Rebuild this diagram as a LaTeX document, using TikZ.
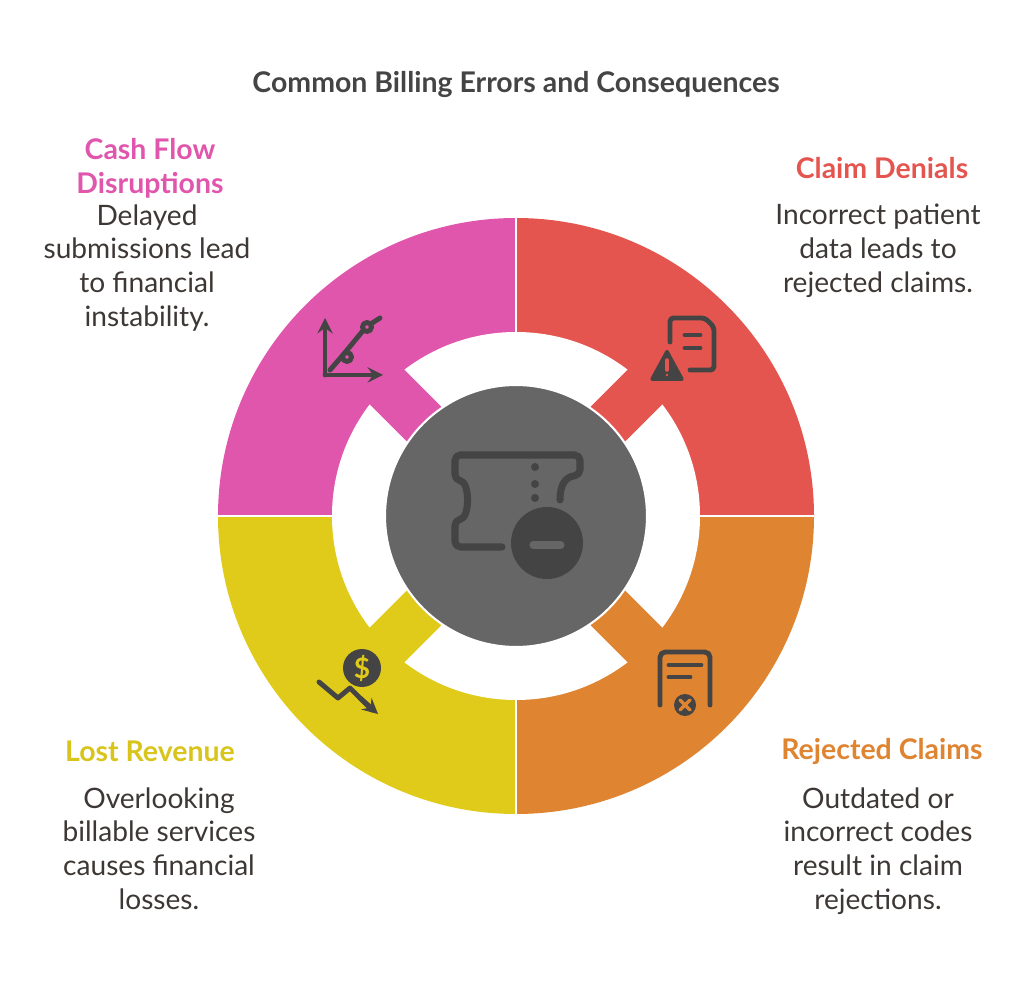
\documentclass[tikz,border=0pt]{standalone}
\usepackage{fontspec}
\setmainfont{Lato}
\begin{document}
\begin{tikzpicture}[x=0.02cm,y=-0.02cm,
  head/.style={font=\bfseries\fontsize{16.2}{19.3}\selectfont,align=center,inner sep=0},
  body/.style={font=\fontsize{16}{19.3}\selectfont,align=center,text=txt,inner sep=0},
  ico/.style={draw=icon,line width=2.8pt,line cap=round,line join=round}]
\definecolor{cpink}{HTML}{E056AD}
\definecolor{cred}{HTML}{E5554F}
\definecolor{corange}{HTML}{DF8431}
\definecolor{cyellow}{HTML}{E0CA1A}
\definecolor{hyellow}{HTML}{D8C41A}
\definecolor{cdark}{HTML}{666666}
\definecolor{icon}{HTML}{444444}
\definecolor{txt}{HTML}{3D3835}
\useasboundingbox (0,0) rectangle (1024,982);
\coordinate (c) at (516,516);
% quadrants
\fill[cpink] (c) -- ++(180:298) arc (180:270:298) -- cycle;
\fill[cred] (c) -- ++(270:298) arc (270:360:298) -- cycle;
\fill[corange] (c) -- ++(0:298) arc (0:90:298) -- cycle;
\fill[cyellow] (c) -- ++(90:298) arc (90:180:298) -- cycle;
\fill[white] (c) circle (184);
\foreach \a/\col in {135/cpink,45/cred,315/corange,225/cyellow}{
  \begin{scope}[shift={(516,516)},rotate=\a]
  \fill[\col] (110,-24.5) rectangle (205,24.5);
  \end{scope}}
\draw[white,line width=1.2pt] (516,218) -- (516,814) (218,516) -- (814,516);
\node[circle,fill=cdark,draw=white,line width=1.2pt,minimum size=262*0.02cm,inner sep=0] (hub) at (c) {};
% ticket icon
\draw[ico,line width=4pt,rounded corners=3pt] (502,547) -- (455,547) -- (455,520)
  .. controls (470,518) and (470,482) .. (455,480) -- (455,455) -- (580,455) -- (580,475)
  .. controls (565,477) and (560,485) .. (560,500);
\fill[icon] (535,467) circle (4) (535,484) circle (4) (535,498) circle (4);
\fill[icon] (547,543) circle (36);
\draw[cdark,line width=4pt,line cap=round] (533,545) -- (561,545);
% chart icon (pink)
\draw[ico,-stealth] (325,375) -- (325,318);
\draw[ico,-stealth] (325,375) -- (383,375);
\draw[ico] (330,370) -- (343,355) -- (366,327) -- (380,318);
\draw[ico,fill=cpink] (347,357) circle (4.5) (367,327) circle (4.5);
% doc warning (red)
\draw[ico,rounded corners=2pt] (670,342) -- (670,318) -- (705,318) -- (714,327) -- (714,370) -- (690,370);
\draw[ico] (685,335) -- (700,335) (685,348) -- (700,348);
\fill[icon,rounded corners=2pt] (667,348) -- (685,381) -- (649,381) -- cycle;
\draw[cred,line width=2pt,line cap=round] (667,360) -- (667,370);
\fill[cred] (667,375) circle (1.3);
% money down (yellow)
\fill[icon] (362,668) circle (19);
\node[text=cyellow,font=\bfseries\fontsize{16}{16}\selectfont,inner sep=0] (dol) at (362,668) {\$};
\draw[ico] (319,682) -- (338,698) -- (350,688) -- (372,710);
\draw[ico,-stealth] (360,698) -- (378,714);
% doc x (orange)
\draw[ico,rounded corners=3pt] (660,705) -- (660,652) -- (710,652) -- (710,705);
\draw[ico] (669,665) -- (701,665) (669,677) -- (690,677);
\fill[icon] (685,705) circle (11);
\draw[corange,line width=2pt,line cap=round] (680,700) -- (690,710) (690,700) -- (680,710);
% texts
\node[font=\bfseries\fontsize{16.2}{18}\selectfont,text=icon] (title) at (516,85) {Common Billing Errors and Consequences};
\node[head,text=cpink] (h1) at (150,168) {Cash Flow\\Disruptions};
\node[body,anchor=north] (b1) at (147,204) {Delayed\\submissions lead\\to financial\\instability.};
\node[head,text=cred] (h2) at (882,168) {Claim Denials};
\node[body,anchor=north] (b2) at (878,204) {Incorrect patient\\data leads to\\rejected claims.};
\node[head,text=corange] (h3) at (882,751) {Rejected Claims};
\node[body,anchor=north] (b3) at (878,787) {Outdated or\\incorrect codes\\result in claim\\rejections.};
\node[head,text=hyellow] (h4) at (150,751) {Lost Revenue};
\node[body,anchor=north] (b4) at (159,787) {Overlooking\\billable services\\causes financial\\losses.};
\end{tikzpicture}
\end{document}
